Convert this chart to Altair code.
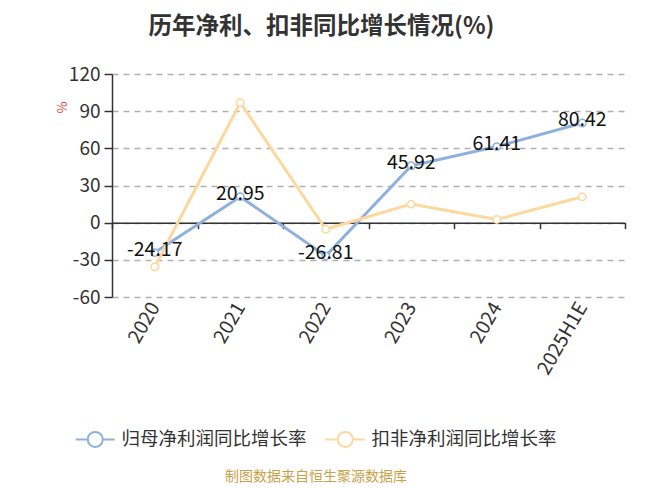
import altair as alt
import pandas as pd

years = ["2020", "2021", "2022", "2023", "2024", "2025H1E"]
parent_growth = [-24.17, 20.95, -26.81, 45.92, 61.41, 80.42]
deducted_growth = [-35.7, 96.8, -5.3, 15.0, 2.6, 20.9]
series_names = ["归母净利润同比增长率", "扣非净利润同比增长率"]
series_colors = ["#8fb0dc", "#fcd89e"]
y_ticks = [-60, -30, 0, 30, 60, 90, 120]
title_text = "历年净利、扣非同比增长情况(%)"
source_text = "制图数据来自恒生聚源数据库"

rows = []
for i, y in enumerate(years):
    rows.append({"year": y, "series": series_names[0], "value": parent_growth[i],
                 "order": 0, "label": f"{parent_growth[i]:.2f}"})
for i, y in enumerate(years):
    rows.append({"year": y, "series": series_names[1], "value": deducted_growth[i],
                 "order": 1, "label": f"{deducted_growth[i]:.2f}"})
df = pd.DataFrame(rows)
df_parent = df[df["series"] == series_names[0]]

FONT = "Noto Sans CJK SC"
W, H = 513, 223
zero_off = -(H - H * 120 / 180)

x_enc = alt.X(
    "year:N",
    sort=years,
    bandPosition=0.5,
    scale=alt.Scale(type="band", paddingInner=0, paddingOuter=0),
    axis=alt.Axis(
        title=None, orient="bottom", offset=zero_off,
        domainColor="#333333", domainWidth=1.5,
        tickBand="extent", tickSize=6, tickColor="#333333", tickWidth=1.5,
        labelAngle=-60, labelAlign="right", labelBaseline="middle",
        labelPadding=75, labelFontSize=19.5, labelColor="#333333", labelFont=FONT,
        grid=False,
    ),
)
y_enc = alt.Y(
    "value:Q",
    scale=alt.Scale(domain=[-60, 120], nice=False, zero=False),
    axis=alt.Axis(
        values=y_ticks, title="%", titleColor="#e53935", titleFontSize=13,
        titleFontWeight="normal", titleFont=FONT, titleAngle=-90,
        titleX=-50, titleY=33, titleAlign="center", titleBaseline="middle",
        domainColor="#333333", domainWidth=1.5, tickColor="#333333", tickSize=8,
        tickWidth=1.5, labelFontSize=19, labelColor="#333333", labelFont=FONT,
        labelPadding=4, labelExpr="toString(datum.value)",
        grid=True, gridColor="#b0b0b0", gridDash=[6, 5], gridWidth=1.5,
    ),
)

color_scale = alt.Scale(domain=series_names, range=series_colors)
legend_symbol = "M-2.6,0L-1,0M1,0L2.6,0M-1,0A1,1,0,1,1,1,0A1,1,0,1,1,-1,0"

lines = alt.Chart(df).mark_line(strokeWidth=3).encode(
    x=x_enc,
    y=y_enc,
    color=alt.Color(
        "series:N", scale=color_scale, sort=series_names,
        legend=alt.Legend(
            title=None, orient="none", direction="horizontal",
            legendX=-26, legendY=356, padding=0,
            symbolType=legend_symbol, symbolSize=225, symbolStrokeWidth=2,
            symbolFillColor="white", labelFontSize=18.5, labelColor="#333333",
            labelFont=FONT, labelOffset=17, columnPadding=14, labelLimit=0,
        ),
    ),
    order=alt.Order("order:Q"),
)

points = alt.Chart(df).mark_point(filled=True, fill="white", size=55, strokeWidth=1.5, opacity=1).encode(
    x=x_enc,
    y=y_enc,
    stroke=alt.Stroke("series:N", scale=color_scale, legend=None),
)

labels = alt.Chart(df_parent).mark_text(
    fontSize=19.5, font=FONT, color="#111111", dy=-3, baseline="middle", align="center"
).encode(
    x=x_enc,
    y=y_enc,
    text="label:N",
)

source = alt.Chart(pd.DataFrame({"t": [source_text]})).mark_text(
    fontSize=14, font=FONT, color="#c9a14b", align="center", baseline="middle"
).encode(
    x=alt.value(204),
    y=alt.value(403),
    text="t:N",
)

chart = alt.layer(lines, points, labels, source).resolve_scale(
    color="independent"
).properties(
    width=W,
    height=H,
    title=alt.Title(
        title_text, fontSize=23.5, font=FONT, fontWeight="bold", color="#333333",
        anchor="middle", dx=-47, offset=27,
    ),
    autosize=alt.AutoSizeParams(type="none"),
    padding={"left": 104, "top": 66, "right": 17, "bottom": 189},
).configure_view(stroke=None)

chart.save("out.html", embed_options={"renderer": "svg", "actions": False})
